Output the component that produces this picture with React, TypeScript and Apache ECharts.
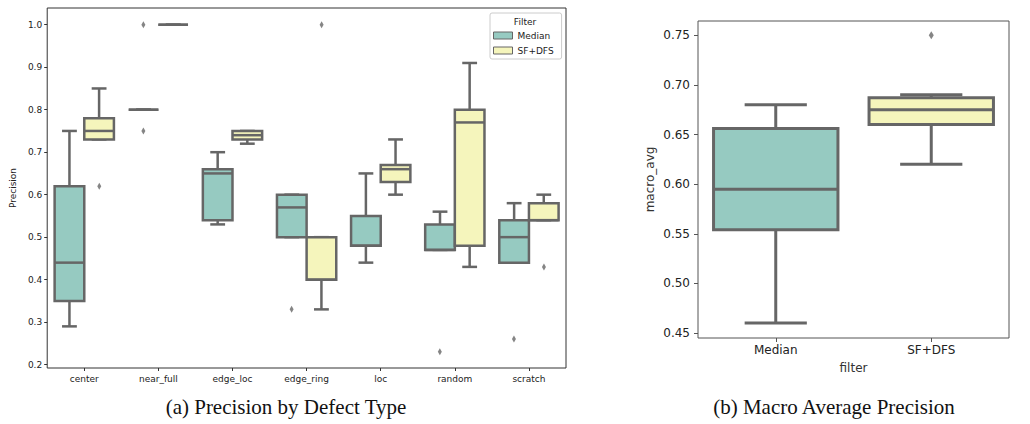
import React, { useEffect, useRef } from 'react';
import * as echarts from 'echarts';

// ---------- data ----------
const defectTypes = ['center', 'near_full', 'edge_loc', 'edge_ring', 'loc', 'random', 'scratch'];
// [min, Q1, median, Q3, max]
const medianStats = [
  [0.29, 0.35, 0.44, 0.62, 0.75],
  [0.8, 0.8, 0.8, 0.8, 0.8],
  [0.53, 0.54, 0.65, 0.66, 0.7],
  [0.5, 0.5, 0.57, 0.6, 0.6],
  [0.44, 0.48, 0.48, 0.55, 0.65],
  [0.47, 0.47, 0.47, 0.53, 0.56],
  [0.44, 0.44, 0.5, 0.54, 0.58],
];
const sfdfsStats = [
  [0.73, 0.73, 0.75, 0.78, 0.85],
  [1.0, 1.0, 1.0, 1.0, 1.0],
  [0.72, 0.73, 0.74, 0.75, 0.75],
  [0.33, 0.4, 0.4, 0.5, 0.5],
  [0.6, 0.63, 0.66, 0.67, 0.73],
  [0.43, 0.48, 0.77, 0.8, 0.91],
  [0.54, 0.54, 0.54, 0.58, 0.6],
];
const medianOutliers: [string, number][] = [
  ['near_full', 1.0],
  ['near_full', 0.75],
  ['edge_ring', 0.33],
  ['random', 0.23],
  ['scratch', 0.26],
];
const sfdfsOutliers: [string, number][] = [
  ['center', 0.62],
  ['edge_ring', 1.0],
  ['scratch', 0.43],
];
const precisionTicks = [0.2, 0.3, 0.4, 0.5, 0.6, 0.7, 0.8, 0.9, 1.0];

const filters = ['Median', 'SF+DFS'];
const macroStats = [
  [0.46, 0.554, 0.595, 0.656, 0.68],
  [0.62, 0.66, 0.675, 0.687, 0.69],
];
const macroOutliers: [string, number][] = [['SF+DFS', 0.75]];
const macroTicks = [0.45, 0.5, 0.55, 0.6, 0.65, 0.7, 0.75];

// ---------- styles ----------
const TEAL = '#96cac1';
const YELLOW = '#f5f5bc';
const EDGE = '#666666';
const FONT = 'DejaVu Sans';

function boxRenderer(offset: number, widthFrac: number, lw: number, fill: string) {
  return (params: any, api: any) => {
    const idx = api.value(0);
    const band = api.size([1, 0])[0];
    const w = band * widthFrac;
    const cx = api.coord([idx, api.value(3)])[0] + band * offset;
    const py = (d: number) => api.coord([idx, api.value(d)])[1];
    const yMin = py(1), yQ1 = py(2), yMed = py(3), yQ3 = py(4), yMax = py(5);
    const ls = { stroke: EDGE, lineWidth: lw };
    return {
      type: 'group',
      children: [
        { type: 'line', shape: { x1: cx, y1: yQ1, x2: cx, y2: yMin }, style: ls },
        { type: 'line', shape: { x1: cx, y1: yQ3, x2: cx, y2: yMax }, style: ls },
        { type: 'line', shape: { x1: cx - w / 4, y1: yMin, x2: cx + w / 4, y2: yMin }, style: ls },
        { type: 'line', shape: { x1: cx - w / 4, y1: yMax, x2: cx + w / 4, y2: yMax }, style: ls },
        {
          type: 'rect',
          shape: { x: cx - w / 2, y: yQ3, width: w, height: yQ1 - yQ3 },
          style: { fill, stroke: EDGE, lineWidth: lw },
        },
        { type: 'line', shape: { x1: cx - w / 2, y1: yMed, x2: cx + w / 2, y2: yMed }, style: ls },
      ],
    };
  };
}

export default function App() {
  const ref = useRef<HTMLDivElement>(null);
  useEffect(() => {
    if (!ref.current) return;
    const chart = echarts.init(ref.current, null, { renderer: 'svg' });
    const option: any = {
      animation: false,
      backgroundColor: '#ffffff',
      grid: [
        { left: 41, top: 8, width: 525, height: 360, show: true, borderColor: '#333333', borderWidth: 1 },
        { left: 698, top: 21, width: 311, height: 317, show: true, borderColor: '#555555', borderWidth: 1 },
      ],
      xAxis: [
        {
          type: 'category',
          gridIndex: 0,
          data: defectTypes,
          axisLine: { show: false },
          axisTick: { show: true, alignWithLabel: true, length: 3, lineStyle: { color: '#333' } },
          axisLabel: { fontSize: 9, fontFamily: FONT, color: '#222', margin: 6 },
          splitLine: { show: false },
        },
        {
          type: 'category',
          gridIndex: 1,
          data: filters,
          name: 'filter',
          nameLocation: 'middle',
          nameGap: 24,
          nameTextStyle: { fontSize: 12, fontFamily: FONT, color: '#333' },
          axisLine: { show: false },
          axisTick: { show: true, alignWithLabel: true, length: 4, lineStyle: { color: '#555' } },
          axisLabel: { fontSize: 12, fontFamily: FONT, color: '#222', margin: 6 },
          splitLine: { show: false },
        },
      ],
      yAxis: [
        {
          type: 'value',
          gridIndex: 0,
          min: 0.192,
          max: 1.0394,
          name: 'Precision',
          nameLocation: 'middle',
          nameGap: 26,
          nameTextStyle: { fontSize: 9, fontFamily: FONT, color: '#222' },
          axisLine: { show: false },
          axisTick: { show: true, length: 3, customValues: precisionTicks, lineStyle: { color: '#333' } },
          axisLabel: {
            customValues: precisionTicks,
            formatter: (v: number) => v.toFixed(1),
            fontSize: 9,
            fontFamily: FONT,
            color: '#222',
            margin: 5,
          },
          splitLine: { show: false },
        },
        {
          type: 'value',
          gridIndex: 1,
          min: 0.445,
          max: 0.7644,
          name: 'macro_avg',
          nameLocation: 'middle',
          nameGap: 42,
          nameTextStyle: { fontSize: 12, fontFamily: FONT, color: '#333' },
          axisLine: { show: false },
          axisTick: { show: true, length: 4, customValues: macroTicks, lineStyle: { color: '#555' } },
          axisLabel: {
            customValues: macroTicks,
            formatter: (v: number) => v.toFixed(2),
            fontSize: 12,
            fontFamily: FONT,
            color: '#222',
            margin: 8,
          },
          splitLine: { show: false },
        },
      ],
      legend: {
        data: [
          { name: 'Median', itemStyle: { color: TEAL, borderColor: EDGE, borderWidth: 1 } },
          { name: 'SF+DFS', itemStyle: { color: YELLOW, borderColor: EDGE, borderWidth: 1 } },
        ],
        orient: 'vertical',
        left: 490,
        top: 13,
        padding: [17, 8, 3, 3],
        itemWidth: 19,
        itemHeight: 7,
        itemGap: 4,
        icon: 'rect',
        borderColor: '#cccccc',
        borderWidth: 1,
        borderRadius: 2,
        selectedMode: false,
        textStyle: { fontSize: 9, fontFamily: FONT, color: '#222', lineHeight: 11 },
      },
      graphic: [
        {
          type: 'text',
          z: 100,
          x: 525,
          y: 22,
          style: { text: 'Filter', fontSize: 9, fontFamily: FONT, fill: '#222', textAlign: 'center', textVerticalAlign: 'middle' },
        },
        {
          type: 'text',
          x: 286,
          y: 407,
          style: {
            text: '(a) Precision by Defect Type',
            fontSize: 21,
            fontFamily: 'Liberation Serif',
            fill: '#111',
            textAlign: 'center',
            textVerticalAlign: 'middle',
          },
        },
        {
          type: 'text',
          x: 834,
          y: 407,
          style: {
            text: '(b) Macro Average Precision',
            fontSize: 21,
            fontFamily: 'Liberation Serif',
            fill: '#111',
            textAlign: 'center',
            textVerticalAlign: 'middle',
          },
        },
      ],
      series: [
        {
          name: 'Median',
          type: 'custom',
          xAxisIndex: 0,
          yAxisIndex: 0,
          itemStyle: { color: TEAL },
          encode: { x: 0, y: [1, 2, 3, 4, 5] },
          renderItem: boxRenderer(-0.2, 0.4, 2.5, TEAL),
          data: medianStats.map((s, i) => [i, ...s]),
        },
        {
          name: 'SF+DFS',
          type: 'custom',
          xAxisIndex: 0,
          yAxisIndex: 0,
          itemStyle: { color: YELLOW },
          encode: { x: 0, y: [1, 2, 3, 4, 5] },
          renderItem: boxRenderer(0.2, 0.4, 2.5, YELLOW),
          data: sfdfsStats.map((s, i) => [i, ...s]),
        },
        {
          name: 'Median outliers',
          type: 'scatter',
          xAxisIndex: 0,
          yAxisIndex: 0,
          symbol: 'diamond',
          symbolSize: [4, 7],
          symbolOffset: [-15, 0],
          itemStyle: { color: EDGE },
          data: medianOutliers,
        },
        {
          name: 'SF+DFS outliers',
          type: 'scatter',
          xAxisIndex: 0,
          yAxisIndex: 0,
          symbol: 'diamond',
          symbolSize: [4, 7],
          symbolOffset: [15, 0],
          itemStyle: { color: EDGE },
          data: sfdfsOutliers,
        },
        {
          name: 'macro_avg',
          type: 'custom',
          xAxisIndex: 1,
          yAxisIndex: 1,
          encode: { x: 0, y: [1, 2, 3, 4, 5] },
          renderItem: (params: any, api: any) =>
            boxRenderer(0, 0.8, 3, params.dataIndex === 0 ? TEAL : YELLOW)(params, api),
          data: macroStats.map((s, i) => [i, ...s]),
        },
        {
          name: 'macro outliers',
          type: 'scatter',
          xAxisIndex: 1,
          yAxisIndex: 1,
          symbol: 'diamond',
          symbolSize: [5, 8],
          itemStyle: { color: EDGE },
          data: macroOutliers,
        },
      ],
    };
    chart.setOption(option);
    return () => chart.dispose();
  }, []);
  return (
    <div
      ref={ref}
      style={{ position: 'fixed', left: 0, top: 0, width: 1030, height: 424, background: '#fff' }}
    />
  );
}
